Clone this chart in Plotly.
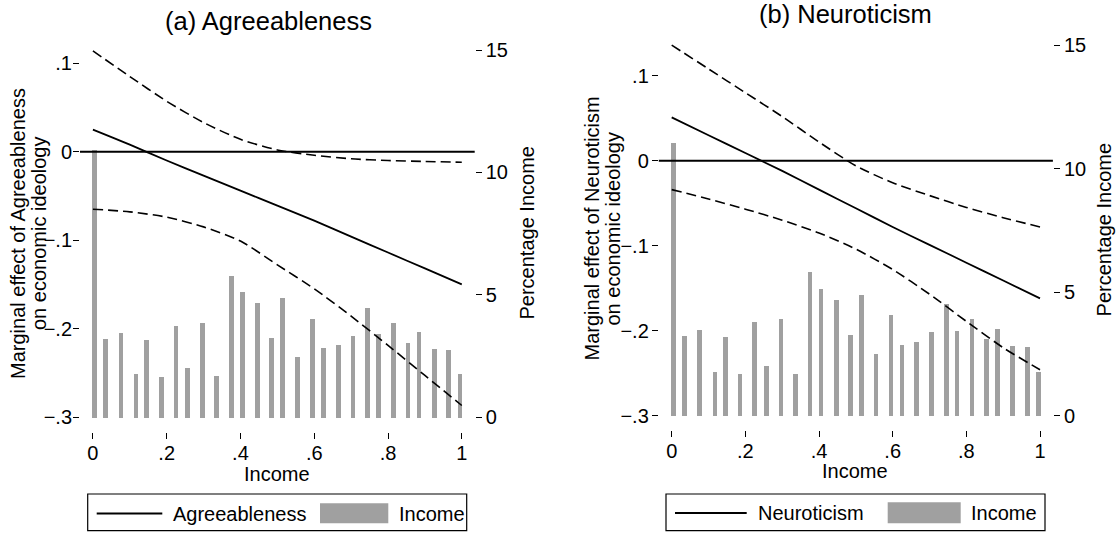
import plotly.graph_objects as go

W, H = 1116, 534

# ---------------- data ----------------
income_x = [0.005, 0.035, 0.076, 0.117, 0.146, 0.185, 0.225, 0.256, 0.296, 0.335,
            0.375, 0.405, 0.446, 0.485, 0.514, 0.554, 0.595, 0.625, 0.665, 0.705,
            0.745, 0.774, 0.815, 0.854, 0.884, 0.925, 0.965, 0.995]
income_pct_a = [10.94, 3.20, 3.46, 1.76, 3.17, 1.66, 3.76, 2.04, 3.88, 1.69,
                5.80, 5.12, 4.68, 3.25, 4.88, 2.46, 4.03, 2.84, 2.95, 3.35,
                4.48, 3.40, 3.88, 3.05, 3.51, 2.82, 2.76, 1.76]
income_pct_b = [11.04, 3.23, 3.50, 1.80, 3.20, 1.69, 3.80, 2.05, 3.93, 1.72,
                5.82, 5.15, 4.72, 3.28, 4.92, 2.50, 4.08, 2.88, 2.99, 3.41,
                4.54, 3.43, 3.93, 3.11, 3.53, 2.85, 2.80, 1.80]

grid_x = [0.0, 0.1, 0.2, 0.3, 0.4, 0.5, 0.6, 0.7, 0.8, 0.9, 1.0]
agree_me = [0.025, 0.008, -0.010, -0.027, -0.044, -0.061, -0.078, -0.096, -0.114, -0.132, -0.150]
agree_hi = [0.114, 0.085, 0.057, 0.033, 0.014, 0.002, -0.004, -0.008, -0.010, -0.011, -0.012]
agree_lo = [-0.065, -0.068, -0.074, -0.085, -0.101, -0.128, -0.155, -0.186, -0.219, -0.253, -0.287]
neuro_me = [0.051, 0.030, 0.009, -0.012, -0.034, -0.056, -0.078, -0.099, -0.120, -0.141, -0.162]
neuro_hi = [0.136, 0.108, 0.080, 0.052, 0.022, -0.006, -0.026, -0.041, -0.055, -0.067, -0.078]
neuro_lo = [-0.034, -0.045, -0.057, -0.070, -0.085, -0.104, -0.128, -0.157, -0.189, -0.220, -0.246]

x_tickvals = [0, 0.2, 0.4, 0.6, 0.8, 1]
x_ticktext = ["0", ".2", ".4", ".6", ".8", "1"]
left_tickvals = [-0.3, -0.2, -0.1, 0, 0.1]
left_ticktext = ["\u2212.3", "\u2212.2", "\u2212.1", "0", ".1"]
right_tickvals = [0, 5, 10, 15]
right_ticktext = ["0", "5", "10", "15"]

titles = ["(a) Agreeableness", "(b) Neuroticism"]
left_titles = [("Marginal effect of Agreeableness", "on economic ideology"),
               ("Marginal effect of Neuroticism", "on economic ideology")]
series_names = ["Agreeableness", "Neuroticism"]

# ---------------- styling / layout helpers ----------------
FONT = "Liberation Sans, Arial, sans-serif"
FS = 20
GRAY = "#a0a0a0"


def fx(px):
    return px / W


def fy(py):
    return 1 - py / H


fig = go.Figure()

panels = [
    dict(xa="x", ya_bar="y", ya_line="y2", xd=(80, 474.7), yd=(35.5, 431.5),
         left_range=[-0.3164, 0.1314], right_range=[-0.5925, 15.5925], left_standoff=-3,
         pct=income_pct_a, me=agree_me, hi=agree_hi, lo=agree_lo,
         title_xy=(268.3, 21), ltitle_x=(17.5, 38.5), ltitle_y=233.5,
         rtitle_x=526, xtitle_xy=(277, 473.5),
         legend=dict(box=(87.7, 494, 466.7, 530.7), line=(96.7, 162.3, 513.5),
                     text1=171, gbox=(320, 503.3, 388.3, 523.3), text2=396.5)),
    dict(xa="x2", ya_bar="y3", ya_line="y4", xd=(658.8, 1052.9), yd=(30.5, 430.3),
         left_range=[-0.3172, 0.1532], right_range=[-0.59, 15.59], left_standoff=-1,
         pct=income_pct_b, me=neuro_me, hi=neuro_hi, lo=neuro_lo,
         title_xy=(845.5, 14), ltitle_x=(591.5, 612.5), ltitle_y=229,
         rtitle_x=1104, xtitle_xy=(855.5, 471),
         legend=dict(box=(666, 494, 1045, 530.7), line=(675, 746.7, 513),
                     text1=755.5, gbox=(887.7, 502.3, 960.7, 523.3), text2=969)),
]

axis_common = dict(showgrid=False, zeroline=False, showline=False,
                   ticks="outside", ticklen=6, tickwidth=1, tickcolor="black",
                   tickfont=dict(family=FONT, size=FS, color="black"))

layout_axes = {}
shapes = []
annotations = []

for i, p in enumerate(panels):
    xa_name = "xaxis" if p["xa"] == "x" else "xaxis" + p["xa"][1:]
    yb_name = "yaxis" if p["ya_bar"] == "y" else "yaxis" + p["ya_bar"][1:]
    yl_name = "yaxis" + p["ya_line"][1:]
    xdom = [fx(p["xd"][0]), fx(p["xd"][1])]
    ydom = [fy(p["yd"][1]), fy(p["yd"][0])]

    layout_axes[xa_name] = dict(domain=xdom, range=[-0.035, 1.035], anchor=p["ya_bar"],
                                tickmode="array", tickvals=x_tickvals, ticktext=x_ticktext,
                                ticklabelstandoff=-3, **axis_common)
    layout_axes[yb_name] = dict(domain=ydom, range=p["right_range"], anchor=p["xa"], side="right",
                                tickmode="array", tickvals=right_tickvals, ticktext=right_ticktext,
                                **axis_common)
    layout_axes[yl_name] = dict(domain=ydom, range=p["left_range"], anchor=p["xa"], side="left",
                                overlaying=p["ya_bar"], ticklabelstandoff=p["left_standoff"],
                                tickmode="array", tickvals=left_tickvals, ticktext=left_ticktext,
                                **axis_common)

    # histogram of income (right axis)
    fig.add_trace(go.Bar(x=income_x, y=p["pct"], width=0.013,
                         marker=dict(color=GRAY, line=dict(width=0)),
                         xaxis=p["xa"], yaxis=p["ya_bar"], name="Income", showlegend=False))
    # marginal effect and confidence bounds (left axis)
    for bound in (p["hi"], p["lo"]):
        fig.add_trace(go.Scatter(x=grid_x, y=bound, mode="lines",
                                 line=dict(color="black", width=1.6, dash="10px,5px",
                                           shape="spline", smoothing=0.7),
                                 xaxis=p["xa"], yaxis=p["ya_line"], showlegend=False))
    fig.add_trace(go.Scatter(x=grid_x, y=p["me"], mode="lines",
                             line=dict(color="black", width=1.8, shape="spline", smoothing=0.7),
                             xaxis=p["xa"], yaxis=p["ya_line"], name=series_names[i],
                             showlegend=False))

    # zero reference line across the plot region
    shapes.append(dict(type="line", xref=p["xa"] + " domain", x0=0, x1=1,
                       yref=p["ya_line"], y0=0, y1=0,
                       line=dict(color="black", width=2), layer="above"))

    # panel title
    annotations.append(dict(text=titles[i], x=fx(p["title_xy"][0]), y=fy(p["title_xy"][1]),
                            xref="paper", yref="paper", xanchor="center", yanchor="middle",
                            showarrow=False, font=dict(family=FONT, size=25.5, color="black")))
    # left axis title (two lines)
    for k in range(2):
        annotations.append(dict(text=left_titles[i][k], x=fx(p["ltitle_x"][k]), y=fy(p["ltitle_y"]),
                                xref="paper", yref="paper", xanchor="center", yanchor="middle",
                                textangle=-90, showarrow=False,
                                font=dict(family=FONT, size=FS, color="black")))
    # right axis title
    annotations.append(dict(text="Percentage Income", x=fx(p["rtitle_x"]), y=fy((p["yd"][0] + p["yd"][1]) / 2),
                            xref="paper", yref="paper", xanchor="center", yanchor="middle",
                            textangle=-90, showarrow=False,
                            font=dict(family=FONT, size=FS, color="black")))
    # x axis title
    annotations.append(dict(text="Income", x=fx(p["xtitle_xy"][0]), y=fy(p["xtitle_xy"][1]),
                            xref="paper", yref="paper", xanchor="center", yanchor="middle",
                            showarrow=False, font=dict(family=FONT, size=FS, color="black")))

    # legend (Stata style box)
    lg = p["legend"]
    bx0, by0, bx1, by1 = lg["box"]
    shapes.append(dict(type="rect", xref="paper", yref="paper",
                       x0=fx(bx0), x1=fx(bx1), y0=fy(by1), y1=fy(by0),
                       line=dict(color="black", width=1.2), fillcolor="white", layer="above"))
    lx0, lx1, ly = lg["line"]
    shapes.append(dict(type="line", xref="paper", yref="paper",
                       x0=fx(lx0), x1=fx(lx1), y0=fy(ly), y1=fy(ly),
                       line=dict(color="black", width=1.8), layer="above"))
    gx0, gy0, gx1, gy1 = lg["gbox"]
    shapes.append(dict(type="rect", xref="paper", yref="paper",
                       x0=fx(gx0), x1=fx(gx1), y0=fy(gy1), y1=fy(gy0),
                       line=dict(width=0), fillcolor=GRAY, layer="above"))
    annotations.append(dict(text=series_names[i], x=fx(lg["text1"]), y=fy(ly),
                            xref="paper", yref="paper", xanchor="left", yanchor="middle",
                            showarrow=False, font=dict(family=FONT, size=FS, color="black")))
    annotations.append(dict(text="Income", x=fx(lg["text2"]), y=fy(ly),
                            xref="paper", yref="paper", xanchor="left", yanchor="middle",
                            showarrow=False, font=dict(family=FONT, size=FS, color="black")))

fig.update_layout(
    width=W, height=H,
    margin=dict(l=0, r=0, t=0, b=0),
    paper_bgcolor="white", plot_bgcolor="white",
    showlegend=False, bargap=0,
    font=dict(family=FONT, size=FS, color="black"),
    shapes=shapes, annotations=annotations,
    **layout_axes,
)

fig.write_html("out.html")
